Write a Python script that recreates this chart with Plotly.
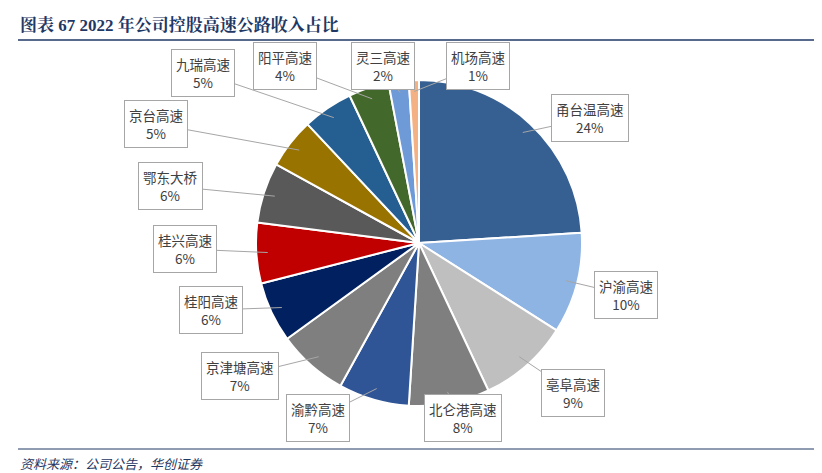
import math
import plotly.graph_objects as go

W, H = 822, 473

labels = ['甬台温高速', '沪渝高速', '亳阜高速', '北仑港高速', '渝黔高速', '京津塘高速', '桂阳高速',
          '桂兴高速', '鄂东大桥', '京台高速', '九瑞高速', '阳平高速', '灵三高速', '机场高速']
values = [24, 10, 9, 8, 7, 7, 6, 6, 6, 5, 5, 4, 2, 1]
colors = ['#376092', '#8EB4E3', '#BFBFBF', '#7F7F7F', '#2F5597', '#7F7F7F', '#002060',
          '#C00000', '#595959', '#997300', '#255E91', '#43682B', '#6F9AD8', '#F4B183']

# label box centres in pixels (layout only)
label_pos = [(582, 110), (618, 287), (565, 385), (455, 410), (310, 410), (232, 368), (203, 302),
             (177, 241), (162, 178), (148, 116), (195, 65), (277, 58), (375, 58), (470, 58)]

cx, cy, r = 411, 235, 163
x0, x1 = (cx - r) / W, (cx + r) / W
y0, y1 = 1 - (cy + r) / H, 1 - (cy - r) / H

fig = go.Figure(go.Pie(
    labels=labels, values=values, sort=False, direction='clockwise', rotation=0,
    marker=dict(colors=colors, line=dict(color='white', width=2)),
    textinfo='none', hoverinfo='label+percent', showlegend=False,
    domain=dict(x=[x0, x1], y=[y0, y1]),
))

total = sum(values)
cum = 0
anns = []
for lab, v, (lx, ly) in zip(labels, values, label_pos):
    th = math.radians(360 * (cum + v / 2) / total)
    cum += v
    tx = cx + 0.93 * r * math.sin(th)
    ty = cy - 0.93 * r * math.cos(th)
    anns.append(dict(
        x=tx / W, y=1 - ty / H, xref='paper', yref='paper',
        ax=lx - tx, ay=ly - ty, axref='pixel', ayref='pixel',
        text=f'{lab}<br>{v}%', showarrow=True, arrowhead=0, arrowwidth=1,
        arrowcolor='#A6A6A6', bordercolor='#A6A6A6', borderwidth=1, borderpad=4,
        bgcolor='white', font=dict(size=13.5, color='#404040', family='Noto Sans CJK SC'),
    ))

anns.append(dict(x=10 / W, y=1 - 17 / H, xref='paper', yref='paper', xanchor='left', yanchor='middle',
                 text='<b>图表 67 2022 年公司控股高速公路收入占比</b>', showarrow=False,
                 font=dict(size=17, color='#1F3864', family='Liberation Serif, Noto Serif CJK SC, Noto Sans CJK SC')))
anns.append(dict(x=10 / W, y=1 - 455 / H, xref='paper', yref='paper', xanchor='left', yanchor='middle',
                 text='<i>资料来源：公司公告，华创证券</i>', showarrow=False,
                 font=dict(size=13, color='#1F3864', family='Noto Sans CJK SC')))

fig.update_layout(
    width=W, height=H, margin=dict(l=0, r=0, t=0, b=0),
    paper_bgcolor='white', plot_bgcolor='white',
    annotations=anns,
    shapes=[
        dict(type='line', xref='paper', yref='paper', x0=10 / W, x1=812 / W,
             y0=1 - 32 / H, y1=1 - 32 / H, line=dict(color='#1F3864', width=1.5)),
        dict(type='line', xref='paper', yref='paper', x0=10 / W, x1=812 / W,
             y0=1 - 441 / H, y1=1 - 441 / H, line=dict(color='#1F3864', width=1)),
    ],
)

fig.write_html('out.html')
